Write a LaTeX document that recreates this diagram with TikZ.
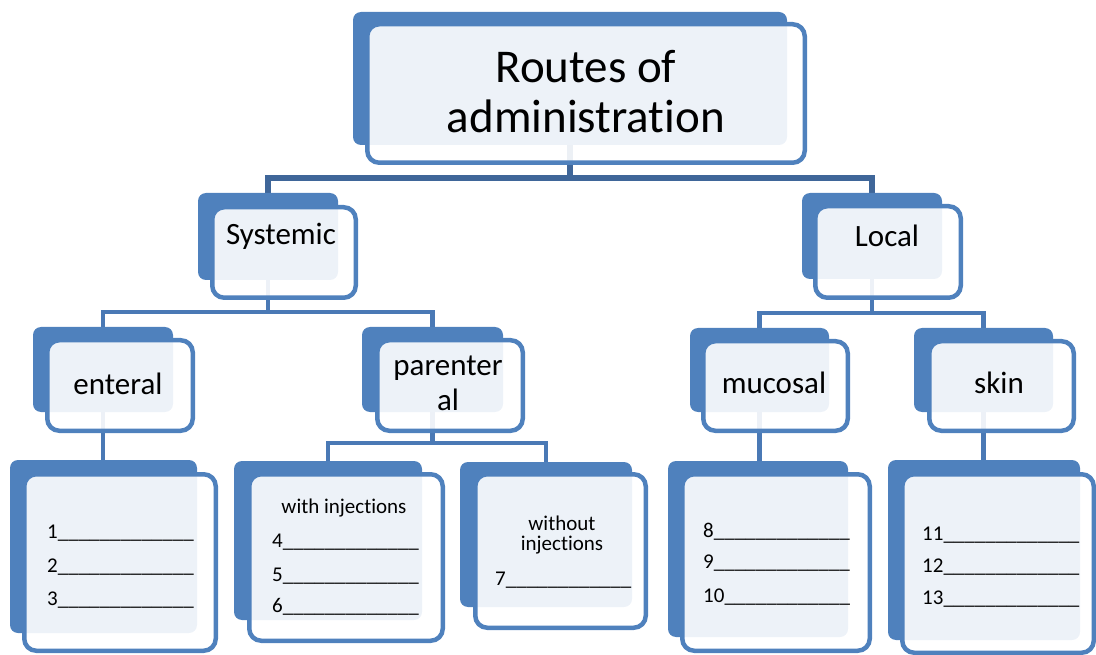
\documentclass[tikz,border=0pt]{standalone}
\usepackage{fontspec}
\setmainfont{Carlito}[Ligatures={NoCommon,NoContextual}]
\usetikzlibrary{backgrounds}
\definecolor{boxblue}{HTML}{4F81BD}
\definecolor{linkblue}{HTML}{4A79B5}
\definecolor{busblue}{HTML}{3F6699}
\newcommand\blank[1]{\foreach\k in {1,...,#1}{\_}}

\begin{document}
\begin{tikzpicture}[x=1pt,y=-1pt,
    sz/.style 2 args={minimum width=#1pt,minimum height=#2pt},
    backbox/.style={fill=boxblue,rounded corners=8pt,inner sep=0pt},
    frontbox/.style={draw=boxblue,line width=4.5pt,fill=white,fill opacity=0.9,
      draw opacity=1,rounded corners=12pt,inner sep=0pt},
    link/.style={draw=linkblue,line width=4.5pt},
    big/.style={font=\fontsize{31}{35}\selectfont,align=center,inner sep=0pt},
    small/.style={font=\fontsize{21}{21}\selectfont,align=center,inner sep=0pt}]
  \useasboundingbox (0,0) rectangle (1096,655);

  % back boxes
  \node[backbox,sz={434}{133}] (top-b)       at (570,78.5)   {};
  \node[backbox,sz={140}{87}]  (sys-b)       at (268,236.5)  {};
  \node[backbox,sz={140}{86}]  (loc-b)       at (872,236)    {};
  \node[backbox,sz={140}{85}]  (ent-b)       at (103,369.5)  {};
  \node[backbox,sz={141}{85}]  (par-b)       at (432.5,369.5) {};
  \node[backbox,sz={139}{84}]  (muc-b)       at (759.5,370)  {};
  \node[backbox,sz={139}{84}]  (skin-b)      at (983.5,370)  {};
  \node[backbox,sz={187}{173}] (ent-list-b)  at (103.5,546.5) {};
  \node[backbox,sz={188}{159}] (inj-b)       at (328,540.5)  {};
  \node[backbox,sz={172}{145}] (noinj-b)     at (546,534.5)  {};
  \node[backbox,sz={180}{176}] (muc-list-b)  at (758,549)    {};
  \node[backbox,sz={192}{180}] (skin-list-b) at (984,550)    {};

  % front boxes
  \node[frontbox,sz={437.5}{138.5}] (top)       at (586,93.5)  {};
  \node[frontbox,sz={143.5}{90.5}]  (sys)       at (284,252.5) {};
  \node[frontbox,sz={145.5}{91.5}]  (loc)       at (888,252)   {};
  \node[frontbox,sz={145.5}{90.5}]  (ent)       at (120,385.5) {};
  \node[frontbox,sz={145.5}{90.5}]  (par)       at (450,385.5) {};
  \node[frontbox,sz={144.5}{89.5}]  (muc)       at (775.5,386) {};
  \node[frontbox,sz={144.5}{89.5}]  (skin)      at (1001.5,386) {};
  \node[frontbox,sz={191.5}{176.5}] (ent-list)  at (120,562.5) {};
  \node[frontbox,sz={193.5}{166.5}] (inj)       at (346,557.5) {};
  \node[frontbox,sz={170.5}{153.5}] (noinj)     at (560.5,551) {};
  \node[frontbox,sz={187.5}{176.5}] (muc-list)  at (776,562.5) {};
  \node[frontbox,sz={191.5}{178.5}] (skin-list) at (998,563.5) {};

  % labels
  \node[big,font=\fontsize{47}{50}\selectfont] (top-t) at (586,92) {Routes of\\administration};
  \node[big,anchor=base] (sys-t)  at (281,245) {Systemic};
  \node[big,anchor=base] (loc-t)  at (887,247) {Local};
  \node[big,anchor=base] (ent-t)  at (118,394) {enteral};
  \node[big]             (par-t)  at (448,383.5) {parenter\\al};
  \node[big,anchor=base] (muc-t)  at (774,393) {mucosal};
  \node[big,anchor=base] (skin-t) at (999,393) {skin};

  \node[small,anchor=base west] (n1) at (47,538) {1\blank{13}};
  \node[small,anchor=base west] (n2) at (47,572) {2\blank{13}};
  \node[small,anchor=base west] (n3) at (47,605) {3\blank{13}};
  \node[small,anchor=base] (inj-t) at (344,513) {with injections};
  \node[small,anchor=base west] (n4) at (272,547) {4\blank{13}};
  \node[small,anchor=base west] (n5) at (272,581) {5\blank{13}};
  \node[small,anchor=base west] (n6) at (272,612) {6\blank{13}};
  \node[small,font=\fontsize{21}{20}\selectfont] (noinj-t) at (562,535.5) {without\\injections};
  \node[small,anchor=base west] (n7) at (495,585) {7\blank{12}};
  \node[small,anchor=base west] (n8) at (703,537) {8\blank{13}};
  \node[small,anchor=base west] (n9) at (703,568) {9\blank{13}};
  \node[small,anchor=base west] (n10) at (703,602) {10\blank{12}};
  \node[small,anchor=base west] (n11) at (922,540) {11\blank{13}};
  \node[small,anchor=base west] (n12) at (922,572) {12\blank{13}};
  \node[small,anchor=base west] (n13) at (922,604) {13\blank{13}};

  % connectors
  \coordinate (bus-top) at (570,178);
  \coordinate (bus-sys) at (268,312);
  \coordinate (bus-loc) at (872,313);
  \coordinate (bus-par) at (432.5,443);
  \begin{scope}[on background layer]
    \draw[link,draw=busblue,line width=6pt] (top-b.center) -- (bus-top);
    \draw[link,draw=busblue,line width=6pt] (sys-b.north) |- (bus-top) -| (loc-b.north);
    \draw[link] (sys-b.center) -- (bus-sys);
    \draw[link] (ent-b.north) |- (bus-sys) -| (par-b.north);
    \draw[link] (loc-b.center) -- (bus-loc);
    \draw[link] (muc-b.north) |- (bus-loc) -| (skin-b.north);
    \draw[link] (ent-b.center) -- (ent-b.center |- ent-list-b.north);
    \draw[link] (par-b.center) -- (bus-par);
    \draw[link] (inj-b.north) |- (bus-par) -| (noinj-b.north);
    \draw[link] (muc-b.center) -- (muc-b.center |- muc-list-b.north);
    \draw[link] (skin-b.center) -- (skin-b.center |- skin-list-b.north);
  \end{scope}
\end{tikzpicture}
\end{document}
